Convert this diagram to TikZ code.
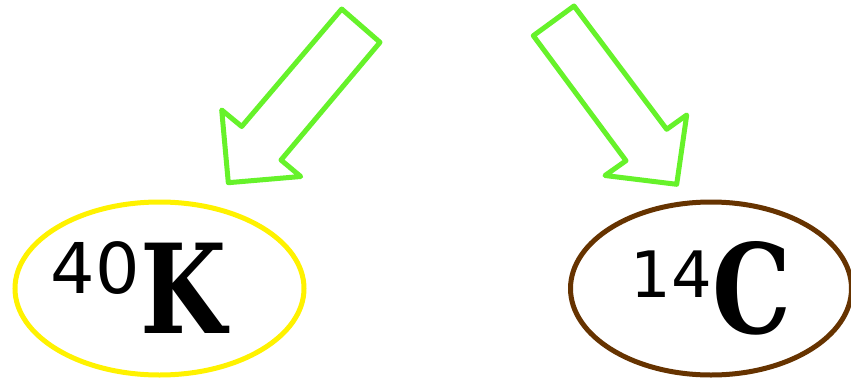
\documentclass[tikz,border=0pt]{standalone}
\usepackage{fontspec}
\setmainfont{DejaVu Serif}
\newfontfamily\elemfont[FakeStretch=0.8]{DejaVu Serif}
\newfontfamily\digitfont{DejaVu Sans}
\usetikzlibrary{shapes.geometric}
\definecolor{arrowgreen}{HTML}{66F22A}
\definecolor{kyellow}{HTML}{FFF200}
\definecolor{cbrown}{HTML}{663300}
\tikzset{
  blockarrow/.style={draw=arrowgreen, line width=5pt, line join=round},
  isoring/.style={ellipse, draw, line width=5pt, inner sep=0pt, minimum height=173pt},
  massnum/.style={inner sep=0pt, font=\digitfont\fontsize{70}{70}\selectfont},
  element/.style={inner sep=0pt, font=\elemfont\bfseries\fontsize{124}{124}\selectfont}
}
\begin{document}
\begin{tikzpicture}[x=1pt,y=-1pt]
\useasboundingbox (0,0) rectangle (851,380);
% arrows
\draw[blockarrow] (341.7,9) -- (380,42.3) -- (281,160) -- (300.7,176.5) -- (228.3,182.7) -- (221.7,110) -- (241.7,126.5) -- cycle;
\draw[blockarrow] (574,6) -- (533.3,35.7) -- (626,160.7) -- (605,175.5) -- (676.7,184.3) -- (686.7,115) -- (666.7,129.3) -- cycle;
% ellipses
\node[isoring, draw=kyellow, minimum width=289pt] (kring) at (159.5,288.5) {};
\node[isoring, draw=cbrown, minimum width=281pt] (cring) at (711,288.5) {};
% labels
\node[element, anchor=base west] (ksym) at (140,333) {K};
\node[massnum, anchor=base east] (kmass) at (ksym.base west) [xshift=0pt, yshift=40pt] {40};
\node[element, anchor=base west] (csym) at (712,333) {C};
\node[massnum, anchor=base east, font=\digitfont\fontsize{64}{64}\selectfont] (cmass) at (csym.base west) [xshift=0pt, yshift=36pt] {14};
\end{tikzpicture}
\end{document}
